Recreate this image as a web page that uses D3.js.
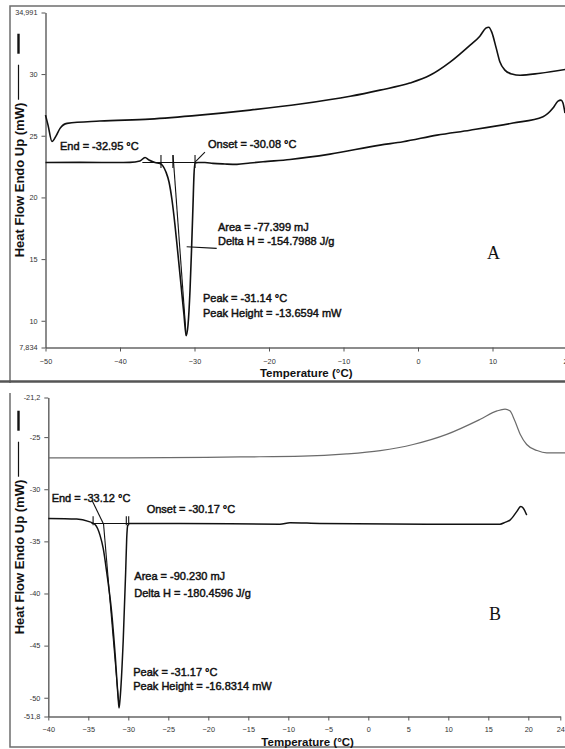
<!DOCTYPE html>
<html>
<head>
<meta charset="utf-8">
<script src="https://cdnjs.cloudflare.com/ajax/libs/d3/7.8.5/d3.min.js"></script>
<style>
  body { margin: 0; background: #fff; }
  svg { display: block; font-family: Arial, "Liberation Sans", sans-serif; }
</style>
</head>
<body>
<svg id="chart" width="565" height="749"></svg>
<script>
// ---------- panel A ----------
const aXTicks = [-50, -40, -30, -20, -10, 0, 10, 20];
const aYTicks = [7.834, 10, 15, 20, 25, 30, 34.991];
const aYLabels = ["7,834", "10", "15", "20", "25", "30", "34,991"];

// upper trace, temperature (°C) and heat flow (mW)
const aTopT = [-50, -49.66, -49.13, -48.6, -48.05, -47.1, -42.7, -36, -29.3, -22.55, -15.8, -9.1, -5.1, -1.1, 1.6, 4.3, 7.0, 8.3, 9.1, 9.5, 9.9, 10.5, 11.0, 11.7, 12.6, 13.7, 16.4, 20];
const aTopV = [26.67, 25.86, 24.53, 24.97, 25.6, 26.0, 26.19, 26.35, 26.67, 27.08, 27.57, 28.2, 28.7, 29.27, 29.9, 30.97, 32.35, 33.07, 33.72, 33.8, 33.4, 32.1, 30.97, 30.3, 30.0, 29.9, 30.07, 30.4];

// lower trace with the crystallisation peak
const aLowT = [-50, -45.37, -41.34, -38.66, -37.32, -36.64, -36.11, -35.3, -34.63, -34.23, -33.83, -33.42, -33.02, -32.62, -32.21, -31.81, -31.41, -31.12, -30.87, -30.6, -30.4, -30.2, -30.07, -29.93, -29.53, -28.6, -27.52, -25.91, -24.3, -22.55, -20.8, -17.18, -11.81, -5.1, -2.01, 2.55, 6.98, 12.75, 16.78, 18.12, 18.79, 19.2, 19.46, 19.73];
const aLowV = [22.83, 22.84, 22.83, 22.84, 22.95, 23.24, 23.03, 22.83, 22.75, 22.54, 22.06, 21.25, 19.79, 17.76, 15.33, 12.9, 10.47, 8.8, 9.66, 12.49, 15.73, 19.38, 21.81, 22.78, 22.83, 22.83, 22.76, 22.71, 22.68, 22.79, 22.89, 23.08, 23.51, 24.24, 24.51, 25.05, 25.45, 26.03, 26.54, 27.24, 27.81, 27.89, 27.65, 26.84];

const aNotes = ["End = -32.95 °C", "Onset = -30.08 °C", "Area = -77.399 mJ", "Delta H = -154.7988 J/g", "Peak = -31.14 °C", "Peak Height = -13.6594 mW"];

// ---------- panel B ----------
const bXTicks = [-40, -35, -30, -25, -20, -15, -10, -5, 0, 5, 10, 15, 20, 24];
const bYTicks = [-51.8, -50, -45, -40, -35, -30, -25, -21.2];
const bYLabels = ["-51,8", "-50", "-45", "-40", "-35", "-30", "-25", "-21,2"];

const bTopT = [-40, -30, -16, -8.2, -2.7, 1.5, 5.6, 9.8, 14, 16.1, 17.1, 17.7, 18.3, 19.0, 19.8, 21.1, 22.3, 24.6];
const bTopV = [-27.0, -27.0, -26.9, -26.83, -26.61, -26.29, -25.71, -24.74, -23.29, -22.48, -22.32, -22.48, -23.41, -24.74, -25.71, -26.29, -26.51, -26.51];

const bLowT = [-40, -36.45, -35, -34.16, -33.54, -33.13, -32.7, -32.08, -31.66, -31.25, -31.16, -31.04, -30.63, -30.33, -30.2, -30.08, -29.88, -29.16, -23.54, -11.04, -9.79, -6.04, 7.3, 16.46, 17.09, 17.71, 18.55, 19.05, 19.38, 19.8];
const bLowV = [-32.8, -32.86, -33.08, -33.38, -34.4, -35.7, -37.95, -41.82, -45.69, -50.2, -50.98, -50.2, -44.4, -37.95, -34.73, -33.5, -33.28, -33.28, -33.28, -33.35, -33.21, -33.28, -33.35, -33.35, -33.18, -32.96, -32.15, -31.66, -31.83, -32.48];

const bNotes = ["End = -33.12 °C", "Onset = -30.17 °C", "Area = -90.230 mJ", "Delta H = -180.4596 J/g", "Peak = -31.17 °C", "Peak Height = -16.8314 mW"];

const yTitle = "Heat Flow Endo Up (mW)";
const xTitle = "Temperature (°C)";

// ---------- layout ----------
const panels = [
  {
    name: "A", xr: [45.5, 567], yr: [347.5, 12.5],
    xd: [-50, 20], yd: [7.834, 34.991],
    xTicks: aXTicks, yTicks: aYTicks, yLabels: aYLabels,
    traces: [
      { t: aTopT, v: aTopV, color: "#111", w: 1.6 },
      { t: aLowT, v: aLowV, color: "#111", w: 1.6 }
    ],
    base: { t: [-37, -28.8], v: 22.83 },
    marks: [-34.5, -32.9, -29.93], markV: [23.43, 22.38],
    tangent: [[-32.88, 23.43], [-31.12, 8.8]],
    leaders: [[[-28.6, 23.67], [-29.93, 22.86]], [[-31.05, 16.0], [-27.02, 15.87]]],
    notes: aNotes,
    notePos: [[-48.05, 23.84], [-28.19, 24.0], [-26.85, 17.27], [-26.85, 16.14], [-28.86, 11.51], [-28.86, 10.3]],
    letterPos: [9.26, 15.0], labelPad: 7.5
  },
  {
    name: "B", xr: [48.3, 560.3], yr: [716.5, 397.5],
    xd: [-40, 24], yd: [-51.8, -21.2],
    xTicks: bXTicks, yTicks: bYTicks, yLabels: bYLabels,
    traces: [
      { t: bTopT, v: bTopV, color: "#6b6b6b", w: 1.2 },
      { t: bLowT, v: bLowV, color: "#111", w: 1.5 }
    ],
    base: { t: [-34.6, -28], v: -33.28 },
    marks: [-34.4, -30.25, -29.95], markV: [-32.6, -33.45],
    tangent: [[-33.1, -33.28], [-31.18, -50.7]],
    leaders: [[[-34.54, -31.06], [-33.13, -33.28]]],
    notes: bNotes,
    notePos: [[-39.58, -31.2], [-27.7, -32.31], [-29.25, -38.74], [-29.25, -40.29], [-29.38, -47.88], [-29.38, -49.24]],
    letterPos: [15.09, -42.53], labelPad: 6
  }
];

const svg = d3.select("#chart");

// frames around the two figures
const frame = svg.append("g").attr("fill", "none");
frame.append("path").attr("d", "M10,383 V6 H566").attr("stroke", "#6e6e6e").attr("stroke-width", 1.5);
frame.append("path").attr("d", "M0,381.5 H566").attr("stroke", "#555").attr("stroke-width", 2.5);
frame.append("path").attr("d", "M10,393 V747 H566").attr("stroke", "#6e6e6e").attr("stroke-width", 1.5);

panels.forEach(p => {
  const x = d3.scaleLinear().domain(p.xd).range(p.xr);
  const y = d3.scaleLinear().domain(p.yd).range(p.yr);
  const g = svg.append("g");

  // axes
  const yAxis = d3.axisLeft(y).tickValues(p.yTicks)
    .tickFormat((d, i) => p.yLabels[i]).tickSize(4).tickPadding(4).tickSizeOuter(0);
  const gy = g.append("g").attr("transform", `translate(${p.xr[0]},0)`).call(yAxis);

  const xAxis = d3.axisBottom(x).tickValues(p.xTicks).tickSize(4).tickPadding(p.labelPad).tickSizeOuter(0);
  const gx = g.append("g").attr("transform", `translate(0,${p.yr[0]})`).call(xAxis);

  [gy, gx].forEach(a => {
    a.select(".domain").attr("stroke", "#666").attr("stroke-width", 1.5);
    a.selectAll(".tick line").attr("stroke", "#555");
    a.selectAll(".tick text").attr("fill", "#333").style("font-size", "7.3px");
  });

  // axis titles
  g.append("text")
    .attr("x", (p.xr[0] + 565) / 2 + 1).attr("y", p.yr[0] + 29)
    .attr("text-anchor", "middle").style("font-size", "11.5px").style("font-weight", "bold")
    .attr("fill", "#111").text(xTitle);

  const cy = (p.yr[0] + p.yr[1]) / 2;
  const yt = g.append("text")
    .attr("transform", `translate(23.5,${cy}) rotate(-90)`)
    .attr("text-anchor", "middle").style("font-size", "13px").style("font-weight", "bold")
    .attr("fill", "#111").text(yTitle);
  const half = yt.node().getComputedTextLength() / 2;
  const top = cy - half;
  g.append("line").attr("x1", 18.5).attr("x2", 18.5)
    .attr("y1", top - 3).attr("y2", top - 38).attr("stroke", "#111").attr("stroke-width", 1.2);
  g.append("line").attr("x1", 18.5).attr("x2", 18.5)
    .attr("y1", top - 49).attr("y2", top - 69).attr("stroke", "#111").attr("stroke-width", 2.4);

  // traces
  const line = d3.line().x(d => x(d[0])).y(d => y(d[1])).curve(d3.curveMonotoneX);
  p.traces.forEach(tr => {
    g.append("path")
      .datum(d3.zip(tr.t, tr.v))
      .attr("fill", "none").attr("stroke", tr.color).attr("stroke-width", tr.w)
      .attr("stroke-linejoin", "round").attr("d", line);
  });

  // analysis construction: baseline, tangent, marks, leaders
  const con = g.append("g").attr("stroke", "#111").attr("stroke-width", 1.1).attr("fill", "none");
  con.append("line")
    .attr("x1", x(p.base.t[0])).attr("x2", x(p.base.t[1]))
    .attr("y1", y(p.base.v)).attr("y2", y(p.base.v));
  con.append("line")
    .attr("x1", x(p.tangent[0][0])).attr("y1", y(p.tangent[0][1]))
    .attr("x2", x(p.tangent[1][0])).attr("y2", y(p.tangent[1][1]));
  p.marks.forEach(t => {
    con.append("line").attr("x1", x(t)).attr("x2", x(t))
      .attr("y1", y(p.markV[0])).attr("y2", y(p.markV[1]));
  });
  p.leaders.forEach(l => {
    con.append("line").attr("x1", x(l[0][0])).attr("y1", y(l[0][1]))
      .attr("x2", x(l[1][0])).attr("y2", y(l[1][1]));
  });

  // annotations
  g.selectAll(".note").data(p.notes).join("text")
    .attr("class", "note")
    .attr("x", (d, i) => x(p.notePos[i][0]))
    .attr("y", (d, i) => y(p.notePos[i][1]))
    .attr("fill", "#111").attr("stroke", "#111").attr("stroke-width", 0.45)
    .style("font-size", "11px").text(d => d);

  g.append("text")
    .attr("x", x(p.letterPos[0])).attr("y", y(p.letterPos[1]))
    .style("font-family", "'Liberation Serif', 'DejaVu Serif', serif").style("font-size", "18px")
    .attr("fill", "#111").text(p.name);
});
</script>
</body>
</html>
